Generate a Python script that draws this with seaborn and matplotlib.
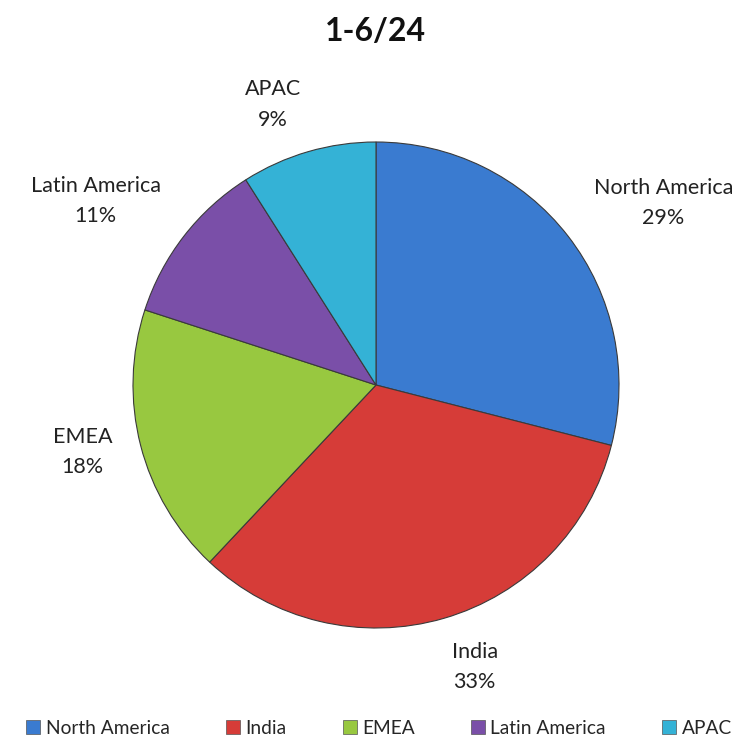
import numpy as np
import matplotlib.pyplot as plt
import seaborn as sns
from matplotlib.lines import Line2D

regions = ["North America", "India", "EMEA", "Latin America", "APAC"]
shares = [29, 33, 18, 11, 9]
title = "1-6/24"

colors = sns.color_palette(["#3a7bd0", "#d63c38", "#98c840", "#7a4fa8", "#34b2d6"])

sns.set_theme(style="white")
plt.rcParams["font.family"] = ["Lato", "DejaVu Sans"]

fig = plt.figure(figsize=(7.41, 7.39), dpi=100)
ax = fig.add_axes([0, 0, 1, 1])

cx, cy, r = 376, 354, 243
wedges, _ = ax.pie(
    shares,
    colors=colors,
    startangle=90,
    counterclock=False,
    center=(cx, cy),
    radius=r,
    wedgeprops=dict(edgecolor="#3a3a3a", linewidth=0.8),
)

# data labels outside, nudged like the Excel "best fit" placement
label_dist = [1.40, 1.23, 1.24, 1.38, 1.23]
label_turn = [-5.4, 3.1, -1.5, 4.5, 4]
for w, name, v, d, t in zip(wedges, regions, shares, label_dist, label_turn):
    ang = np.deg2rad((w.theta1 + w.theta2) / 2 + t)
    ax.text(cx + r * d * np.cos(ang), cy + r * d * np.sin(ang),
            f"{name}\n{v}%", ha="center", va="center",
            fontsize=15.5, color="#222222", linespacing=1.65)

ax.set_xlim(0, 741)
ax.set_ylim(0, 739)
ax.set_aspect("equal")
ax.axis("off")

fig.text(0.507, 0.958, title, ha="center", va="center",
         fontsize=23, fontweight="bold", color="#111111")

handles = [Line2D([], [], marker="s", linestyle="none", markersize=10,
                  markerfacecolor=c, markeredgecolor="#555555", markeredgewidth=0.5)
           for c in colors]
fig.legend(handles, regions, loc="lower center", ncol=5, frameon=False,
           bbox_to_anchor=(0.511, -0.02), fontsize=13.8, handlelength=0.8,
           handletextpad=0.25, columnspacing=2.9)

fig.savefig("out.png", dpi=100)
